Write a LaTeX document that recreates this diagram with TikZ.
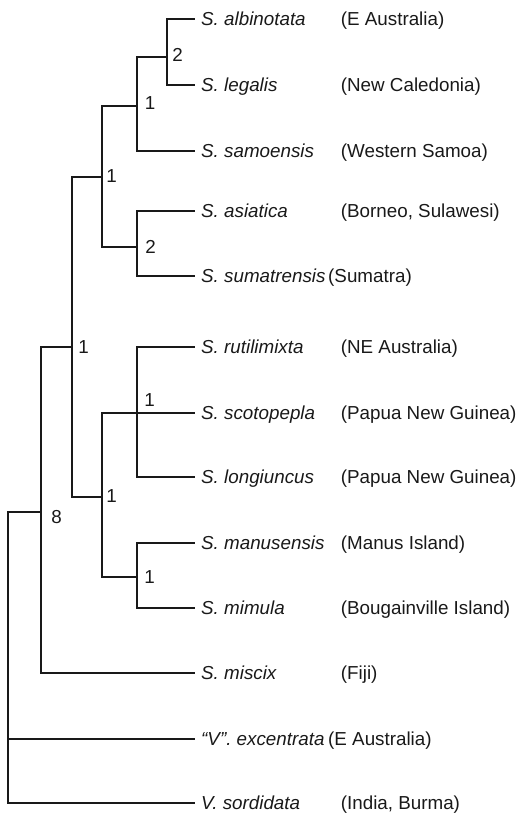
\documentclass[tikz,border=0pt]{standalone}
\usepackage{fontspec}
\setmainfont{Liberation Sans}
\begin{document}
\begin{tikzpicture}[x=1pt,y=-1pt,
  br/.style={line width=2pt, draw=black!90, line join=miter},
  txt/.style={inner sep=0pt, text height=13.5pt, text depth=0pt, font=\fontsize{18.8pt}{22pt}\selectfont, text=black!90},
  sp/.style={txt, anchor=west, inner xsep=6pt, font=\fontsize{18.8pt}{22pt}\selectfont\itshape},
  loc/.style={txt, anchor=west},
  num/.style={txt, anchor=center}]
\useasboundingbox (0,0) rectangle (522,813);
% leaves
\node[sp] (alb) at (195,19) {S. albinotata};
\node[sp] (leg) at (195,85) {S. legalis};
\node[sp] (sam) at (195,151) {S. samoensis};
\node[sp] (asi) at (195,211) {S. asiatica};
\node[sp] (sum) at (195,276) {S. sumatrensis};
\node[sp] (rut) at (195,347) {S. rutilimixta};
\node[sp] (sco) at (195,413) {S. scotopepla};
\node[sp] (lon) at (195,477) {S. longiuncus};
\node[sp] (man) at (195,543) {S. manusensis};
\node[sp] (mim) at (195,608) {S. mimula};
\node[sp] (mis) at (195,673) {S. miscix};
\node[sp] (exc) at (195,739) {“V”. excentrata};
\node[sp] (sor) at (195,803) {V. sordidata};
% locations
\node[loc] (lalb) at (340.7,19) {(E Australia)};
\node[loc] (lleg) at (340.7,85) {(New Caledonia)};
\node[loc] (lsam) at (340.7,151) {(Western Samoa)};
\node[loc] (lasi) at (340.7,211) {(Borneo, Sulawesi)};
\node[loc] (lsum) at (328,276) {(Sumatra)};
\node[loc] (lrut) at (340.7,347) {(NE Australia)};
\node[loc] (lsco) at (340.7,413) {(Papua New Guinea)};
\node[loc] (llon) at (340.7,477) {(Papua New Guinea)};
\node[loc] (lman) at (340.7,543) {(Manus Island)};
\node[loc] (lmim) at (340.7,608) {(Bougainville Island)};
\node[loc] (lmis) at (340.7,673) {(Fiji)};
\node[loc] (lexc) at (328,739) {(E Australia)};
\node[loc] (lsor) at (340.7,803) {(India, Burma)};
% internal nodes
\coordinate (A) at (167,57);
\coordinate (B) at (137,106);
\coordinate (C) at (137,247);
\coordinate (D) at (102,177);
\coordinate (E) at (137,413);
\coordinate (F) at (137,577);
\coordinate (G) at (102,497);
\coordinate (H) at (72,347);
\coordinate (I) at (41,512);
\coordinate (R) at (8,512);
% branches
\draw[br] (A) |- (alb.west);
\draw[br] (A) |- (leg.west);
\draw[br] (B) |- (A);
\draw[br] (B) |- (sam.west);
\draw[br] (C) |- (asi.west);
\draw[br] (C) |- (sum.west);
\draw[br] (D) |- (B);
\draw[br] (D) |- (C);
\draw[br] (E) |- (rut.west);
\draw[br] (E) -- (sco.west);
\draw[br] (E) |- (lon.west);
\draw[br] (F) |- (man.west);
\draw[br] (F) |- (mim.west);
\draw[br] (G) |- (E);
\draw[br] (G) |- (F);
\draw[br] (H) |- (D);
\draw[br] (H) |- (G);
\draw[br] (I) |- (H);
\draw[br] (I) |- (mis.west);
\draw[br] (I) -- (R) |- (sor.west);
\draw[br] (R) |- (exc.west);
% support values
\node[num] (nA) at ([xshift=10.5pt,yshift=2pt]A) {2};
\node[num] (nB) at ([xshift=13pt,yshift=3pt]B) {1};
\node[num] (nC) at ([xshift=13.5pt]C) {2};
\node[num] (nD) at ([xshift=9.5pt,yshift=1pt]D) {1};
\node[num] (nE) at ([xshift=12.5pt,yshift=13.5pt]E) {1};
\node[num] (nF) at ([xshift=12.5pt,yshift=0.5pt]F) {1};
\node[num] (nG) at ([xshift=9.5pt,yshift=1pt]G) {1};
\node[num] (nH) at ([xshift=11.5pt]H) {1};
\node[num] (nI) at ([xshift=15.5pt,yshift=-4.5pt]I) {8};
\end{tikzpicture}
\end{document}
